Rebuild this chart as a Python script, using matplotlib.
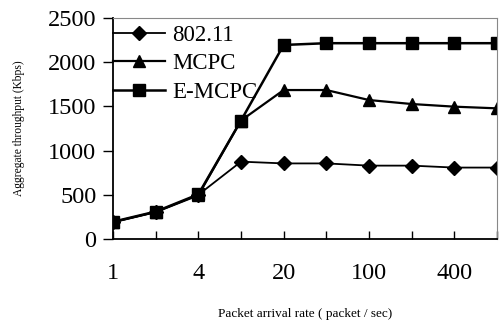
import matplotlib
matplotlib.use('Agg')
from matplotlib import pyplot as plt

rates = ['1', '', '4', '', '20', '', '100', '', '400', '']
dot11 = [190, 305, 500, 875, 855, 855, 830, 830, 808, 808]
mcpc = [190, 305, 495, 1340, 1685, 1685, 1572, 1527, 1497, 1478]
emcpc = [195, 310, 505, 1340, 2195, 2215, 2215, 2215, 2215, 2215]

plt.rcParams['font.family'] = ['Liberation Serif', 'DejaVu Serif']

fig = plt.figure(figsize=(5.01, 3.22), dpi=100)
ax = fig.add_axes([113 / 501, 1 - 239 / 322, 384 / 501, 221 / 322])

x = range(len(rates))
ax.plot(x, dot11, '-D', color='black', lw=1.3, ms=7, label='802.11')
ax.plot(x, mcpc, '-^', color='black', lw=1.6, ms=9, label='MCPC')
ax.plot(x, emcpc, '-s', color='black', lw=1.8, ms=8, label='E-MCPC')

ax.set_xlim(0, len(rates) - 1)
ax.set_ylim(0, 2500)
ax.set_xticks(list(x))
ax.set_xticklabels(rates)
ax.set_yticks(range(0, 2501, 500))
ax.tick_params(axis='x', direction='in', length=6, width=1, pad=17, labelsize=17.5)
ax.tick_params(axis='y', direction='out', length=7, width=1, pad=5, labelsize=17.5)

for side in ['top', 'right']:
    ax.spines[side].set_color('#888888')
for side in ['left', 'bottom']:
    ax.spines[side].set_linewidth(1.3)

ax.set_ylabel('Aggregate throughput (Kbps)', fontsize=8.3, va='center')
ax.yaxis.set_label_coords(-94 / 384, 0.5)
ax.set_xlabel('Packet arrival rate ( packet / sec)', fontsize=9.5, va='center')
ax.xaxis.set_label_coords(0.5, -75 / 221)

ax.legend(loc='upper left', bbox_to_anchor=(0, 0.97), frameon=False, fontsize=16.5,
          handlelength=2.27, handletextpad=0.3, labelspacing=0.33, borderaxespad=0,
          borderpad=0)

plt.savefig('out.png', dpi=100)
